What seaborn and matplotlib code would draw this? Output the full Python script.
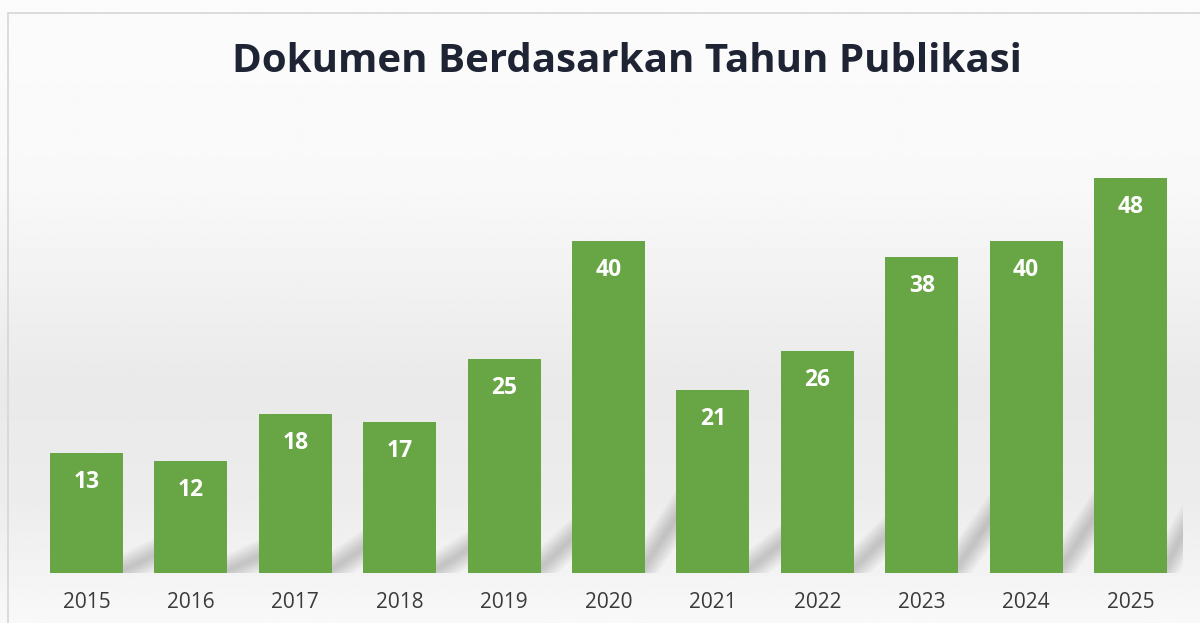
import numpy as np
import pandas as pd
import matplotlib
matplotlib.use("Agg")
import matplotlib.pyplot as plt
import seaborn as sns

years = ["2015", "2016", "2017", "2018", "2019", "2020", "2021", "2022", "2023", "2024", "2025"]
counts = [13, 12, 18, 17, 25, 40, 21, 26, 38, 40, 48]

df = pd.DataFrame({"year": years, "count": counts})

sns.set_theme(style="white")
plt.rcParams["font.family"] = ["Open Sans", "DejaVu Sans"]

fig = plt.figure(figsize=(12, 6.23), dpi=100)

# soft background gradient (white top, light grey lower, lighter again at bottom)
bg = fig.add_axes([0, 0, 1, 1], zorder=0)
stops_y = [0.0, 0.30, 0.62, 0.80, 1.0]
stops_v = [0.985, 0.975, 0.915, 0.925, 0.975]
yy = np.linspace(0, 1, 300)
col = np.interp(yy, stops_y, stops_v)
bg.imshow(np.repeat(col[:, None], 2, axis=1), aspect="auto", cmap="gray",
          vmin=0, vmax=1, extent=[0, 1, 0, 1], origin="upper")
bg.axhline(1 - 13 / 623, xmin=8 / 1200, color="#d6d6d6", lw=1.2)
bg.axvline(8 / 1200, ymax=1 - 13 / 623, color="#d6d6d6", lw=1.2)
bg.set_xlim(0, 1)
bg.set_ylim(0, 1)
bg.axis("off")

ymin, ymax = -2.28, 55.4
ax = fig.add_axes([34.3 / 1200, 50 / 623, 1148.4 / 1200, 453 / 623], zorder=1)
ax.patch.set_alpha(0)
sns.barplot(data=df, x="year", y="count", color="#68a544", saturation=1,
            width=0.70, linewidth=0, ax=ax, zorder=3)

# bars start at the bottom of the plot area
for p in ax.patches:
    h = p.get_height()
    p.set_y(ymin)
    p.set_height(h - ymin)

# soft diagonal cast shadows, visible only in the gaps between bars
for p, v in zip(ax.patches, counts):
    x1 = p.get_x() + p.get_width()
    xs = [x1 - 0.05, x1 + 0.45]
    ys = [ymin, ymin + v * 0.25]
    for lw in np.linspace(22, 3, 8):
        ax.plot(xs, ys, color="black", lw=lw, alpha=0.022, solid_capstyle="butt", zorder=1)

for p, v in zip(ax.patches, counts):
    ax.annotate(str(v), (p.get_x() + p.get_width() / 2, v),
                xytext=(0, -29), textcoords="offset pixels", zorder=4,
                ha="center", va="center", color="white", fontsize=16.5, fontweight="bold")

ax.set_xlim(-0.5, 10.5)
ax.set_ylim(ymin, ymax)
ax.set_xlabel("")
ax.set_ylabel("")
ax.set_yticks([])
ax.tick_params(axis="x", length=0, pad=14, labelsize=15, labelcolor="#3a3a3a")
sns.despine(ax=ax, left=True, bottom=True)

fig.text(0.5225, 1 - 61 / 623, "Dokumen Berdasarkan Tahun Publikasi", ha="center", va="center",
         fontsize=29, fontweight="bold", color="#1e2433")

fig.savefig("out.png", dpi=100)
